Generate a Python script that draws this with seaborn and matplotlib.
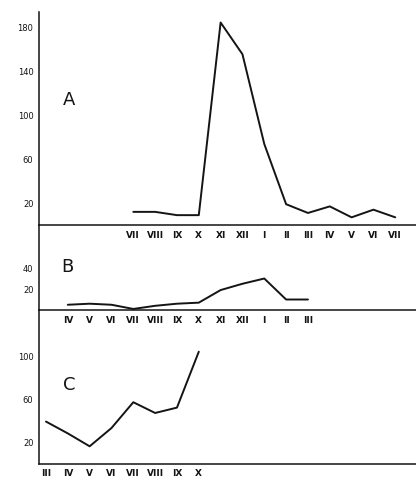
import matplotlib.pyplot as plt
import pandas as pd
import seaborn as sns

# Monthly series
ROMAN = ["I", "II", "III", "IV", "V", "VI", "VII", "VIII", "IX", "X", "XI", "XII"]
BASE_MONTH = "1970-03"

A_START = "1970-07"
A_VALUES = [12, 12, 9, 9, 185, 156, 74, 19, 11, 17, 7, 14, 7]
A_TICKS = [20, 60, 100, 140, 180]

B_START = "1970-04"
B_VALUES = [5, 6, 5, 1, 4, 6, 7, 19, 25, 30, 10, 10]
B_TICKS = [20, 40]

C_START = "1970-03"
C_VALUES = [39, 28, 16, 33, 57, 47, 52, 104]
C_TICKS = [20, 60, 100]

W, H = 416, 482
INK = "#141414"


def panel_frame(start, values):
    months = pd.period_range(start, periods=len(values), freq="M")
    base = pd.Period(BASE_MONTH, freq="M")
    return pd.DataFrame(
        {
            "pos": [(m - base).n for m in months],
            "label": [ROMAN[m.month - 1] for m in months],
            "value": values,
        }
    )


def px_axes(fig, top, bottom):
    left = 39
    return fig.add_axes(
        [left / W, 1 - bottom / H, (W - left) / W, (bottom - top) / H]
    )


def main():
    sns.set_style("white")
    plt.rcParams["font.family"] = ["DejaVu Sans"]
    fig = plt.figure(figsize=(W / 100, H / 100), dpi=100)
    fig.patch.set_facecolor("white")

    panels = [
        ("A", A_START, A_VALUES, A_TICKS, 12, 225, 194.6, (69, 100)),
        ("B", B_START, B_VALUES, B_TICKS, 225, 310, 81.0, (67, 267)),
        ("C", C_START, C_VALUES, C_TICKS, 310, 463.5, 142.8, (69, 385)),
    ]
    for letter, start, values, ticks, top, bottom, ymax, (lx, ly) in panels:
        ax = px_axes(fig, top, bottom)
        df = panel_frame(start, values)
        sns.lineplot(data=df, x="pos", y="value", color=INK, linewidth=1.4, ax=ax)
        ax.set_xlim(-0.32, 16.95)
        ax.set_ylim(0, ymax)
        ax.set_xticks(df["pos"])
        ax.set_xticklabels(df["label"], fontsize=6.5, color=INK, fontweight="bold")
        ax.set_yticks(ticks)
        ax.set_yticklabels([str(t) for t in ticks], fontsize=6, color=INK)
        ax.tick_params(axis="x", length=0, pad=4)
        ax.tick_params(axis="y", length=2, width=0.8, pad=2, colors=INK)
        ax.set_xlabel("")
        ax.set_ylabel("")
        ax.patch.set_alpha(0)
        for side in ("top", "right"):
            ax.spines[side].set_visible(False)
        for side in ("left", "bottom"):
            ax.spines[side].set_color(INK)
            ax.spines[side].set_linewidth(1.1)
        fig.text(lx / W, 1 - ly / H, letter, fontsize=13, ha="center",
                 va="center", color=INK)

    fig.savefig("out.png", dpi=100)


if __name__ == "__main__":
    main()
